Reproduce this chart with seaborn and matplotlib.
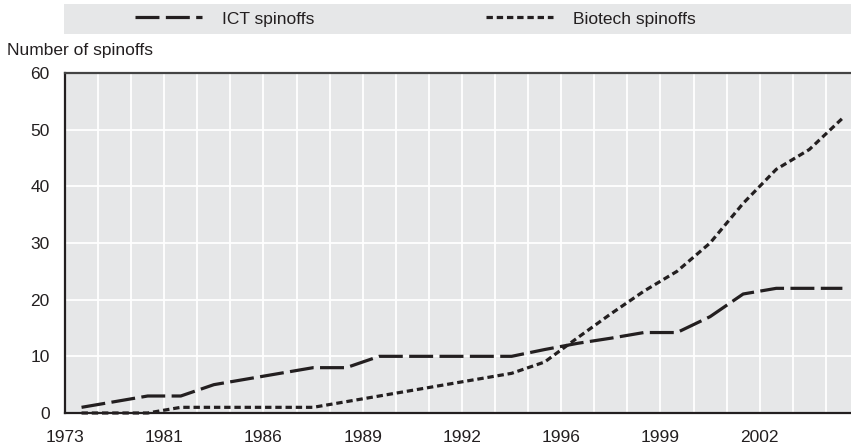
import matplotlib
matplotlib.use("Agg")
import matplotlib.pyplot as plt
import seaborn as sns
import pandas as pd
from matplotlib.patches import Rectangle

# Datos (un punto por categoria)
ict = [1, 2, 3, 3, 5, 6, 7, 8, 8, 10, 10, 10, 10, 10, 11.2, 12.3, 13.2, 14.2, 14.2, 17, 21, 22, 22, 22]
biotech = [0, 0, 0, 1, 1, 1, 1, 1, 2, 3, 4, 5, 6, 7, 9, 13.3, 17.5, 21.5, 25, 30, 37, 43, 46.5, 52]
year_labels = ["1973", "1981", "1986", "1989", "1992", "1996", "1999", "2002"]
y_ticks = [0, 10, 20, 30, 40, 50, 60]

sns.set_theme(style="white")
plt.rcParams["font.family"] = ["Liberation Sans", "DejaVu Sans"]

bg = "#e6e7e8"
ink = "#231f20"

df = pd.DataFrame({"pos": range(len(ict)), "ICT": ict, "Biotech": biotech})

fig = plt.figure(figsize=(8.51, 4.48), dpi=100)
ax = fig.add_axes([65 / 851, 1 - 413 / 448, 1 - 65 / 851, (413 - 73) / 448])
ax.set_facecolor(bg)

sns.lineplot(data=df, x="pos", y="ICT", ax=ax, color=ink, lw=2.3,
             linestyle=(0, (7.5, 2.0)), label="ICT spinoffs", clip_on=False, zorder=5)
sns.lineplot(data=df, x="pos", y="Biotech", ax=ax, color=ink, lw=2.3,
             linestyle=(0, (2.0, 1.2)), label="Biotech spinoffs", clip_on=False, zorder=5)

# Ejes
n = len(ict)
bounds = [i - 0.5 for i in range(n)]
ax.set_xlim(-0.5, n - 0.74)
ax.set_ylim(0, 60)
ax.set_xticks(bounds)
ax.set_xticklabels([year_labels[i // 3] if i % 3 == 0 and i // 3 < len(year_labels) else "" for i in range(n)])
ax.set_yticks(y_ticks)
ax.set_xlabel("")
ax.set_ylabel("")
ax.grid(True, color="white", lw=1.3)
ax.set_axisbelow(True)
ax.tick_params(axis="x", direction="in", length=4, width=1, color="#555555", pad=12, labelsize=12.5, labelcolor=ink)
ax.tick_params(axis="y", direction="in", length=5, width=1, color=ink, pad=11, labelsize=12.5, labelcolor=ink)
for s in ["left", "bottom"]:
    ax.spines[s].set_color(ink)
    ax.spines[s].set_linewidth(1.6)
ax.spines["top"].set_color("#444444")
ax.spines["top"].set_linewidth(1.6)
ax.spines["right"].set_visible(False)

# Leyenda en banda gris
handles, labels = ax.get_legend_handles_labels()
ax.get_legend().remove()
fig.patches.append(Rectangle((64 / 851, 1 - 34 / 448), 1 - 64 / 851, 30 / 448,
                             transform=fig.transFigure, facecolor=bg, edgecolor="none", zorder=0))
fig.legend(handles, labels, loc="center", bbox_to_anchor=(415 / 851, 1 - 19 / 448), ncol=2,
           frameon=False, fontsize=12.5, handlelength=3.9, handletextpad=1.1, columnspacing=9.9,
           labelcolor=ink)

fig.text(7 / 851, 1 - 55 / 448, "Number of spinoffs", fontsize=12.5, color=ink, va="baseline", ha="left")

fig.savefig("out.png", dpi=100)
plt.close(fig)
